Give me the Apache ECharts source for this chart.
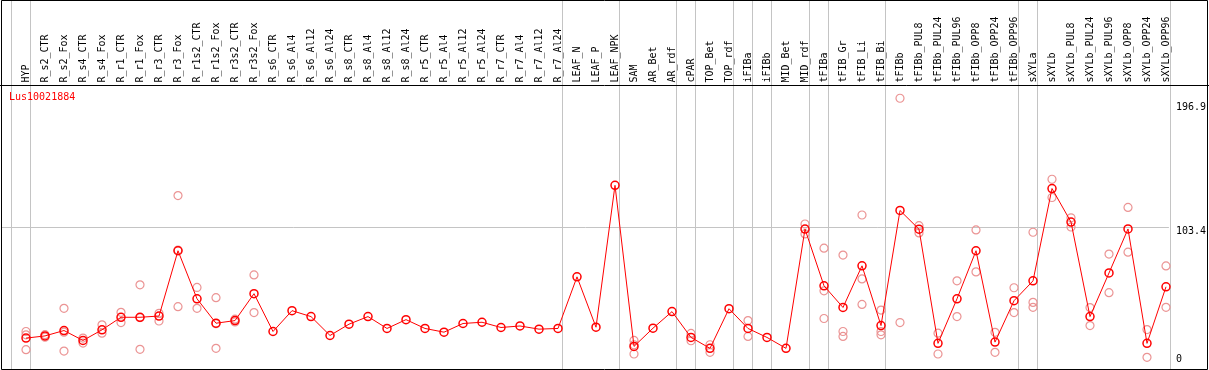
<!DOCTYPE html>
<html>
<head>
<meta charset="utf-8">
<script src="https://cdn.jsdelivr.net/npm/echarts@6/dist/echarts.min.js"></script>
<style>
html,body{margin:0;padding:0;background:#fff;}
#c{width:1209px;height:370px;}
</style>
</head>
<body>
<div id="c"></div>
<script>
const categories = ["HYP","R_s2_CTR","R_s2_Fox","R_s4_CTR","R_s4_Fox","R_r1_CTR","R_r1_Fox","R_r3_CTR","R_r3_Fox","R_r1s2_CTR","R_r1s2_Fox","R_r3s2_CTR","R_r3s2_Fox","R_s6_CTR","R_s6_Al4","R_s6_Al12","R_s6_Al24","R_s8_CTR","R_s8_Al4","R_s8_Al12","R_s8_Al24","R_r5_CTR","R_r5_Al4","R_r5_Al12","R_r5_Al24","R_r7_CTR","R_r7_Al4","R_r7_Al12","R_r7_Al24","LEAF_N","LEAF_P","LEAF_NPK","SAM","AR_Bet","AR_rdf","cPAR","TOP_Bet","TOP_rdf","iFIBa","iFIBb","MID_Bet","MID_rdf","tFIBa","tFIB_Gr","tFIB_Li","tFIB_Bi","tFIBb","tFIBb_PUL8","tFIBb_PUL24","tFIBb_PUL96","tFIBb_OPP8","tFIBb_OPP24","tFIBb_OPP96","sXYLa","sXYLb","sXYLb_PUL8","sXYLb_PUL24","sXYLb_PUL96","sXYLb_OPP8","sXYLb_OPP24","sXYLb_OPP96"];

const meanValues = [23.1,24.7,28.6,21.4,29.1,38.2,38.2,39.1,86.4,51.6,33.9,35.8,55.3,27.9,43.0,38.7,25.0,33.2,38.7,30.1,36.5,30.1,27.4,33.7,34.6,30.8,31.9,29.6,30.1,67.5,31.0,133.8,17.1,30.3,42.3,23.6,15.7,44.4,30.1,23.6,15.7,102.1,61.0,45.3,75.5,32.2,115.6,102.0,19.3,51.6,86.4,20.2,50.2,64.6,131.5,107.2,38.7,70.3,102.2,19.3,60.3];

const repA = [27.9,25.6,44.7,23.1,32.7,41.8,61.7,41.1,126.4,59.8,52.4,36.8,68.9,null,null,null,null,null,null,null,null,null,null,null,null,null,null,null,null,null,null,null,21.4,null,null,26.5,18.3,null,35.8,null,null,105.8,88.3,83.3,112.3,43.4,196.9,104.6,26.7,64.6,101.5,27.3,59.6,99.8,138.2,110.3,45.2,84.0,117.8,29.3,75.4];
const repB = [25.5,23.8,27.4,19.5,26.7,34.4,15.0,35.5,45.9,44.7,15.7,34.8,41.6,null,null,null,null,null,null,null,null,null,null,null,null,null,null,null,null,null,null,null,11.6,null,null,21.2,12.8,null,24.3,null,null,98.6,57.4,27.9,66.0,27.9,34.4,99.3,11.6,38.7,71.1,12.8,41.6,49.0,125.0,103.6,32.2,56.0,85.4,9.2,45.4];
const repC = [14.7,null,13.7,null,null,null,38.0,null,86.9,null,33.6,null,null,null,null,null,null,null,null,null,null,null,null,null,null,null,null,null,null,null,null,null,18.3,null,null,null,null,null,null,null,null,null,37.3,24.3,47.5,25.5,null,null,null,null,null,null,null,45.4,null,null,null,null,null,null,null];

const yTickLabels = [0, 103.4, 196.9];
const yMax = 206.8;
const groupEnds = [-1, 0, 28, 31, 34, 35, 37, 38, 39, 41, 42, 45, 52, 53, 60];
const titleText = "Lus10021884";

const FONT = "DejaVu Sans Mono";

const repData = [];
[repA, repB, repC].forEach(arr => {
  arr.forEach((v, i) => { if (v !== null) repData.push([i, v]); });
});

const chart = echarts.init(document.getElementById('c'), null, {renderer: 'canvas'});

const labelRich = {
  t: {padding: [18, 0, 0, 0], fontSize: 10, fontFamily: FONT, color: '#000'},
  m: {padding: [8, 0, 0, 0], fontSize: 10, fontFamily: FONT, color: '#000'},
  b: {padding: [0, 0, 21, 0], fontSize: 10, fontFamily: FONT, color: '#000'}
};

chart.setOption({
  animation: false,
  backgroundColor: '#ffffff',
  title: {
    text: titleText, left: 9, top: 92, padding: 0,
    textStyle: {color: '#ff0000', fontSize: 10, fontFamily: FONT, fontWeight: 'normal'}
  },
  grid: [
    {left: 16.5, right: 33.5, top: 84.6, height: 287.5},
    {left: 2, right: 38.3, top: 84.6, height: 287.5}
  ],
  xAxis: [
    {
      type: 'category', gridIndex: 0, data: categories, position: 'top', boundaryGap: true,
      axisLine: {show: false}, axisTick: {show: false}, splitLine: {show: false},
      axisLabel: {rotate: 90, interval: 0, margin: 2, fontSize: 10, fontFamily: FONT, color: '#000'}
    },
    {
      type: 'value', gridIndex: 1, min: 0, max: 1, show: false
    }
  ],
  yAxis: [
    {type: 'value', gridIndex: 0, min: 0, max: yMax, show: false, splitLine: {show: false}},
    {
      type: 'value', gridIndex: 1, min: 0, max: yMax, interval: 103.4, position: 'right',
      axisLine: {show: false}, axisTick: {show: false},
      splitLine: {show: true, showMinLine: false, showMaxLine: false, lineStyle: {color: '#c4c4c4', width: 1}},
      axisLabel: {
        customValues: yTickLabels, margin: 7, fontSize: 10, fontFamily: FONT, color: '#000',
        formatter: function (v) {
          const s = String(v);
          if (v === 0) return '{b|' + s + '}';
          if (v === 103.4) return '{m|' + s + '}';
          return '{t|' + s + '}';
        },
        rich: labelRich
      }
    }
  ],
  series: [
    {
      type: 'scatter', xAxisIndex: 0, yAxisIndex: 0, data: repData,
      symbol: 'circle', symbolSize: 8, z: 3, silent: true,
      itemStyle: {color: 'rgba(0,0,0,0)', borderColor: '#eb9494', borderWidth: 1.2, opacity: 1}
    },
    {
      type: 'line', xAxisIndex: 0, yAxisIndex: 0, data: meanValues,
      symbol: 'circle', symbolSize: 8, showAllSymbol: true, z: 5, silent: true,
      lineStyle: {color: '#ff0000', width: 1},
      itemStyle: {color: 'rgba(0,0,0,0)', borderColor: '#ff0000', borderWidth: 1.5}
    }
  ]
});

// decorations: separators and borders
const p0 = chart.convertToPixel({xAxisIndex: 0}, 0);
const p1 = chart.convertToPixel({xAxisIndex: 0}, 1);
const step = p1 - p0;
const gfx = [];
groupEnds.forEach(i => {
  const x = Math.floor(p0 + step * i + 4.7) + 0.5;
  gfx.push({type: 'line', silent: true, z: 0, shape: {x1: x, y1: 0, x2: x, y2: 370}, style: {stroke: '#c4c4c4', lineWidth: 1}});
});
gfx.push({type: 'line', silent: true, z: 10, shape: {x1: 0, y1: 85.5, x2: 1209, y2: 85.5}, style: {stroke: '#000', lineWidth: 1}});
gfx.push({type: 'rect', silent: true, z: 10, shape: {x: 1.5, y: 0.5, width: 1206, height: 369}, style: {fill: 'none', stroke: '#000', lineWidth: 1}});
chart.setOption({graphic: gfx});
</script>
</body>
</html>
